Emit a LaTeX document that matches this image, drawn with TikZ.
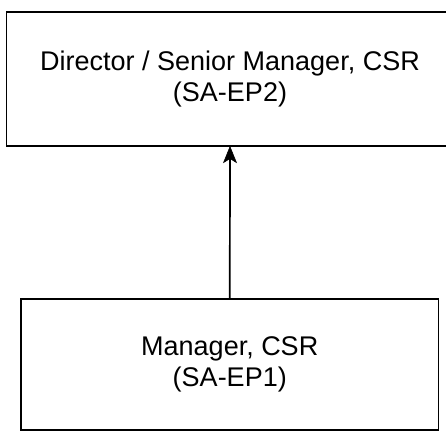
\documentclass[tikz,border=0pt]{standalone}
\usepackage{fontspec}
\setmainfont{Liberation Sans}
\usetikzlibrary{arrows.meta,calc}
\begin{document}
\begin{tikzpicture}[x=1pt,y=1pt,
  box/.style={draw=black,line width=1.7pt,rectangle,inner sep=0pt,align=center,font=\fontsize{27}{31}\selectfont},
  conn/.style={draw=black,line width=1.7pt},
  tip/.style={fill=black,draw=black,line width=0.5pt,line join=miter}]
\useasboundingbox (0,0) rectangle (446,-434);
\node[box,minimum width=447pt,minimum height=133.5pt] (top) at (230,-79) {Director / Senior Manager, CSR\\(SA-EP2)};
\node[box,minimum width=417.5pt,minimum height=131pt] (bot) at (229.75,-364.5) {Manager, CSR\\(SA-EP1)};
\coordinate (tipbase) at ($(top.south)+(0,-12)$);
\draw[conn] (bot.north) -- (tipbase);
\fill[tip] (top.south) -- ($(top.south)+(6.5,-16)$) -- (tipbase) -- ($(top.south)+(-6.5,-16)$) -- cycle;
\end{tikzpicture}
\end{document}
